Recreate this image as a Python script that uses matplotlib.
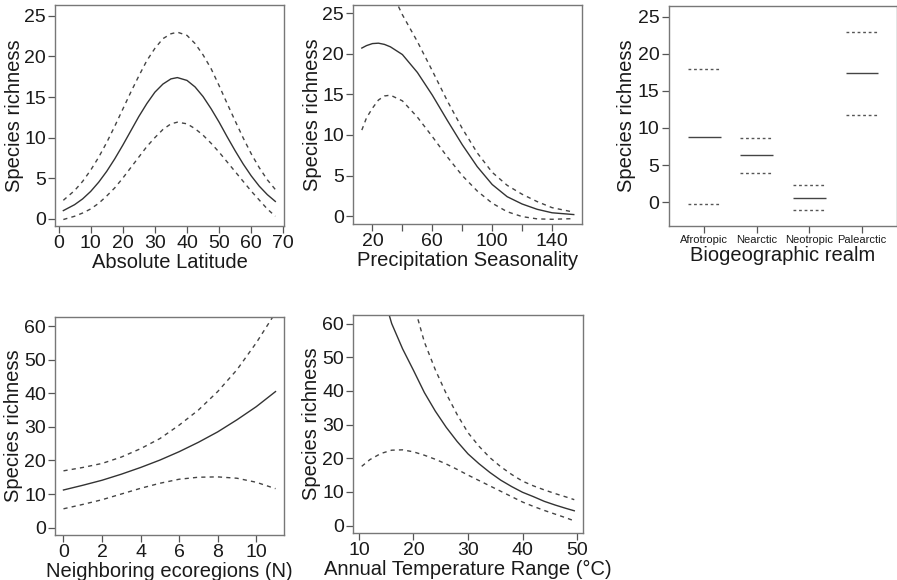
import matplotlib
matplotlib.use('agg')
import matplotlib.pyplot as plt
import numpy as np

plt.rcParams['font.family'] = ['Liberation Sans', 'DejaVu Sans']

# --- data ---
lat_x = [1.5, 5, 7.5, 10, 12.5, 15, 17.5, 20, 22.5, 25, 27.5, 30, 32.5, 35, 37,
         40, 42.5, 45, 47.5, 50, 52.5, 55, 57.5, 60, 62.5, 65, 67.5]
lat_mean = [1.0, 1.73, 2.44, 3.36, 4.5, 5.84, 7.38, 9.06, 10.83, 12.6, 14.2, 15.6, 16.6, 17.24, 17.4,
            17.05, 16.25, 15.06, 13.56, 11.9, 10.1, 8.37, 6.74, 5.28, 4.01, 2.97, 2.13]
lat_upper = [2.27, 3.47, 4.6, 5.98, 7.58, 9.4, 11.4, 13.5, 15.6, 17.6, 19.5, 21.0, 22.2, 22.8, 23.0,
             22.6, 21.6, 20.2, 18.5, 16.4, 14.2, 12.05, 9.95, 8.0, 6.29, 4.8, 3.6]
lat_lower = [-0.1, 0.3, 0.7, 1.2, 1.9, 2.8, 3.8, 5.0, 6.3, 7.6, 8.9, 10.0, 11.0, 11.7, 11.9,
             11.7, 11.1, 10.3, 9.3, 8.2, 7.0, 5.8, 4.6, 3.4, 2.3, 1.2, 0.3]

prec_x = [12.9, 16, 20, 24, 28, 32, 40, 50, 60, 70, 80, 90, 100, 110, 120, 130, 140, 154.5]
prec_mean = [20.7, 21.0, 21.25, 21.3, 21.15, 20.85, 19.9, 17.7, 14.9, 11.8, 8.8, 6.1, 3.9, 2.4, 1.5, 0.85, 0.42, 0.2]
prec_upper = [31.5, 31.0, 30.4, 29.7, 28.9, 27.9, 24.8, 21.5, 17.9, 14.2, 10.8, 7.8, 5.4, 3.8, 2.7, 1.8, 1.05, 0.5]
prec_lower = [10.6, 12.1, 13.3, 14.3, 14.8, 14.9, 14.2, 12.2, 9.8, 7.3, 5.0, 3.1, 1.6, 0.55, -0.05, -0.33, -0.38, -0.3]

realms = ['Afrotropic', 'Nearctic', 'Neotropic', 'Palearctic']
realm_mean = [8.8, 6.3, 0.6, 17.4]
realm_upper = [17.9, 8.6, 2.3, 22.9]
realm_lower = [-0.25, 3.9, -1.1, 11.8]

neigh_x = [0, 1, 2, 3, 4, 5, 6, 7, 8, 9, 10, 11]
neigh_mean = [11.2, 12.6, 14.1, 15.9, 17.9, 20.1, 22.6, 25.4, 28.5, 32.1, 36.0, 40.5]
neigh_upper = [16.9, 17.9, 19.1, 21.0, 23.5, 26.5, 30.5, 35.0, 40.5, 47.0, 55.0, 64.0]
neigh_lower = [5.6, 6.9, 8.3, 10.0, 11.7, 13.2, 14.4, 15.0, 15.1, 14.7, 13.5, 11.6]

temp_x = [10.5, 12, 14, 16, 18, 20, 22, 24, 26, 28, 30, 32, 34, 36, 38, 40, 42, 44, 46, 48, 49.5]
temp_mean = [96, 85, 71, 60.0, 52.5, 46.1, 39.5, 34.0, 29.2, 25.0, 21.3, 18.4, 15.8, 13.5, 11.6, 9.9, 8.6, 7.2, 6.1, 5.1, 4.4]
temp_upper = [165, 143, 118, 97, 80, 66, 54.5, 46.3, 39.2, 33.0, 27.6, 23.6, 20.2, 17.5, 15.2, 13.2, 11.8, 10.6, 9.5, 8.5, 7.7]
temp_lower = [17.6, 19.6, 21.4, 22.4, 22.5, 21.9, 20.9, 19.7, 18.3, 16.7, 15.0, 13.4, 11.8, 10.2, 8.6, 7.0, 5.7, 4.5, 3.4, 2.3, 1.4]

W, H = 897, 580
fig = plt.figure(figsize=(W / 100, H / 100), dpi=100)


def make_axes(l, r, t, b):
    ax = fig.add_axes([l / W, 1 - b / H, (r - l) / W, (b - t) / H])
    for s in ax.spines.values():
        s.set_color('#777777')
        s.set_linewidth(1.0)
    ax.tick_params(length=5, width=0.9, color='#555555', labelsize=14,
                   labelcolor='#1a1a1a', pad=1.5)
    return ax


def curves(ax, x, mean, upper, lower):
    ax.plot(x, mean, color='#333333', lw=1.0)
    ax.plot(x, upper, color='#444444', lw=1.0, dashes=(3, 3))
    ax.plot(x, lower, color='#444444', lw=1.0, dashes=(3, 3))
    ax.set_ylabel('Species richness', fontsize=14.5, color='#1a1a1a', labelpad=0.5)


# Absolute latitude
ax1 = make_axes(55, 284, 5, 226)
curves(ax1, lat_x, lat_mean, lat_upper, lat_lower)
ax1.set_xlim(-1.1, 70.2)
ax1.set_ylim(-0.9, 26.35)
ax1.set_xticks(range(0, 71, 10))
ax1.set_yticks(range(0, 26, 5))
ax1.set_xlabel('Absolute Latitude', fontsize=14.5, color='#1a1a1a', labelpad=1)

# Precipitation seasonality
ax2 = make_axes(353, 582, 5, 223.5)
curves(ax2, prec_x, prec_mean, prec_upper, prec_lower)
ax2.set_xlim(7, 160)
ax2.set_ylim(-0.9, 26.0)
ax2.set_xticks(range(20, 141, 20))
ax2.set_xticklabels(['20', '', '60', '', '100', '', '140'])
ax2.set_yticks(range(0, 26, 5))
ax2.set_xlabel('Precipitation Seasonality', fontsize=14.5, color='#1a1a1a', labelpad=1)

# Biogeographic realm
ax3 = make_axes(668.5, 896.5, 5.5, 226)
pos = np.arange(1, len(realms) + 1)
ax3.hlines(realm_mean, pos - 0.31, pos + 0.31, color='#444444', lw=1.0)
ax3.hlines(realm_upper, pos - 0.31, pos + 0.31, color='#555555', lw=1.0, linestyles=(0, (2, 2)))
ax3.hlines(realm_lower, pos - 0.31, pos + 0.31, color='#555555', lw=1.0, linestyles=(0, (2, 2)))
ax3.set_xlim(0.32, 4.66)
ax3.set_ylim(-3.2, 26.5)
ax3.set_yticks(range(0, 26, 5))
ax3.set_xticks(pos)
ax3.set_xticklabels(realms, fontsize=8)
ax3.tick_params(axis='x', pad=1.5)
ax3.set_ylabel('Species richness', fontsize=14.5, color='#1a1a1a', labelpad=1.5)
ax3.set_xlabel('Biogeographic realm', fontsize=14.5, color='#1a1a1a', labelpad=0.5)

# Neighboring ecoregions
ax4 = make_axes(55, 284, 317, 535)
curves(ax4, neigh_x, neigh_mean, neigh_upper, neigh_lower)
ax4.set_xlim(-0.44, 11.44)
ax4.set_ylim(-2.2, 62.7)
ax4.set_xticks(range(0, 11, 2))
ax4.set_yticks(range(0, 61, 10))
ax4.set_xlabel('Neighboring ecoregions (N)', fontsize=14.5, color='#1a1a1a', labelpad=1)

# Annual temperature range
ax5 = make_axes(353, 583, 314.5, 533)
curves(ax5, temp_x, temp_mean, temp_upper, temp_lower)
ax5.set_xlim(8.9, 51.1)
ax5.set_ylim(-2.2, 62.7)
ax5.set_xticks(range(10, 51, 10))
ax5.set_yticks(range(0, 61, 10))
ax5.set_xlabel('Annual Temperature Range (\u00b0C)', fontsize=14.5, color='#1a1a1a', labelpad=1)

fig.savefig('out.png', dpi=100)
